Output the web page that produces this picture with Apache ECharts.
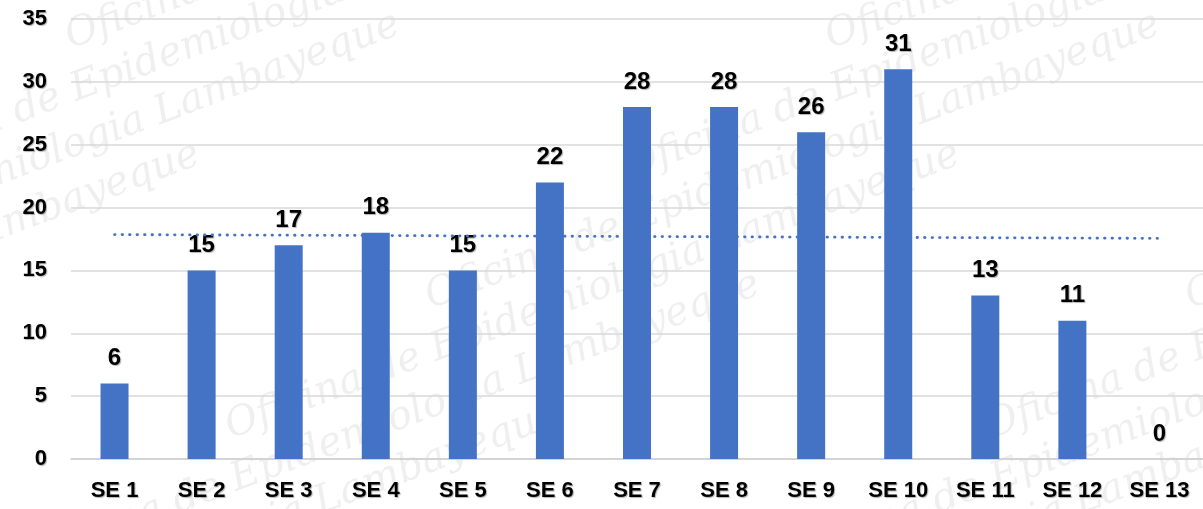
<!DOCTYPE html>
<html><head><meta charset="utf-8">
<script src="https://cdn.jsdelivr.net/npm/echarts@6/dist/echarts.min.js"></script>
<style>html,body{margin:0;padding:0;background:#fff}#c{width:1203px;height:509px}</style>
</head><body><div id="c"></div>
<script>
const categories = ['SE 1','SE 2','SE 3','SE 4','SE 5','SE 6','SE 7','SE 8','SE 9','SE 10','SE 11','SE 12','SE 13'];
const cases = [6,15,17,18,15,22,28,28,26,31,13,11,0];
const trendStart = ['SE 1', 17.85];
const trendEnd = ['SE 13', 17.55];
const yTicks = [0,5,10,15,20,25,30,35];

const FONT = "'Liberation Sans',Arial,sans-serif";
const chart = echarts.init(document.getElementById('c'), null, {renderer:'canvas'});

const wm = [];
const wmText = 'Oficina de Epidemiologia Lambayeque';
for (let r = -2; r < 6; r++) {
  for (let k = -1; k < 3; k++) {
    wm.push({
      type:'text', z:-10, silent:true,
      x: k*760 + r*-200 + 60, y: r*130 + 20,
      rotation: 0.36,
      style:{text: wmText, fill:'rgba(130,130,130,0.13)', font:"italic 40px 'DejaVu Serif', serif"}
    });
  }
}

const shadow = {textShadowColor:'rgba(0,0,0,0.3)', textShadowOffsetX:1, textShadowOffsetY:1, textShadowBlur:1};

chart.setOption({
  animation:false,
  graphic: wm,
  grid:{left:71, right:-4, top:19, bottom:50, containLabel:false},
  xAxis:{
    type:'category', data:categories,
    axisLine:{show:true, lineStyle:{color:'#d0d0d0', width:1.5}},
    axisTick:{show:false},
    axisLabel:Object.assign({color:'#000', fontFamily:FONT, fontWeight:'bold', fontSize:22, margin:21}, shadow)
  },
  yAxis:{
    type:'value', min:0, max:35, interval:5,
    axisLine:{show:false}, axisTick:{show:false},
    splitLine:{lineStyle:{color:'#d9d9d9', width:1.5}},
    axisLabel:Object.assign({color:'#000', fontFamily:FONT, fontWeight:'bold', fontSize:22, margin:24,
      formatter: v => yTicks.includes(v) ? String(v) : ''}, shadow)
  },
  series:[
    {type:'bar', data:cases, barWidth:28, itemStyle:{color:'#4472C4'},
     label:Object.assign({show:true, position:'top', distance:13, color:'#000', fontFamily:FONT, fontWeight:'bold', fontSize:24}, shadow)},
    {type:'line', data:[trendStart, trendEnd], symbol:'none', silent:true,
     lineStyle:{color:'#4472C4', width:2.8, type:[0.5,7], cap:'round'}}
  ]
});
</script></body></html>
